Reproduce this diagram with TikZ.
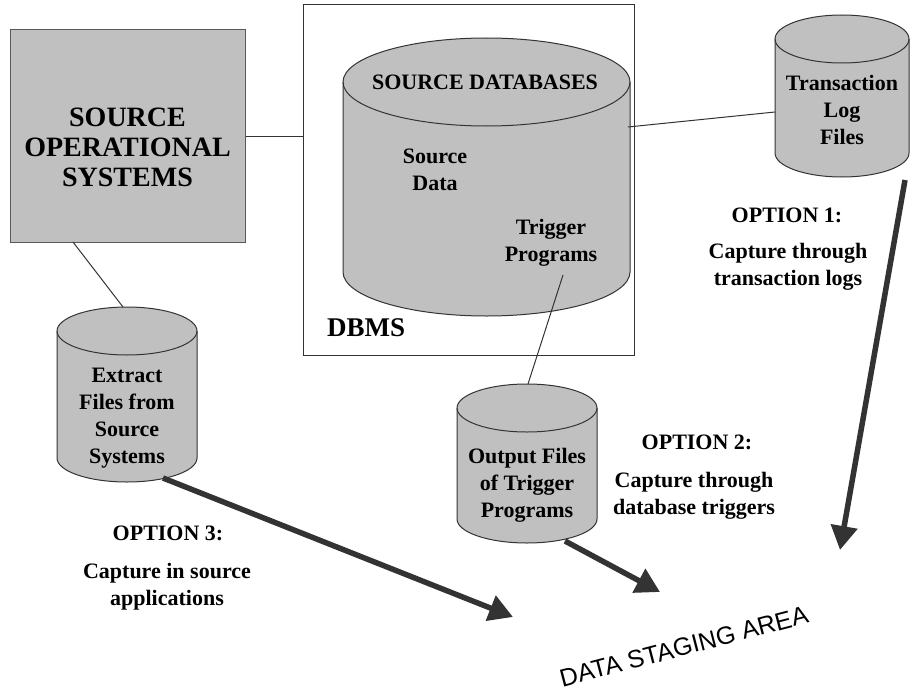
\documentclass[tikz,border=0pt]{standalone}
\usepackage{fontspec}
\setmainfont{Liberation Serif}
\newfontfamily\lsans{Liberation Sans}
\usetikzlibrary{arrows.meta}
\definecolor{cylgray}{RGB}{192,192,192}
\definecolor{darkline}{RGB}{51,51,51}
\tikzset{
  cylfill/.style={fill=cylgray,draw=darkline,line width=1pt},
  cylline/.style={draw=darkline,line width=1pt},
  lbl/.style={align=center,inner sep=0pt,font={\fontsize{22}{27}\selectfont\bfseries}},
  conn/.style={draw=darkline,line width=1pt},
  bigarrow/.style={draw=darkline,line width=5.5pt,-{Triangle[length=24pt,width=26pt]},fill=darkline}
}
\newcommand\mycyl[5]{% cx, ytop, ybot, rx, ry
  \path[cylfill] (#1-#4,#2) -- (#1-#4,#3) arc[start angle=180,end angle=360,x radius=#4pt,y radius=#5pt] -- (#1+#4,#2) arc[start angle=0,end angle=180,x radius=#4pt,y radius=#5pt] -- cycle;
  \draw[cylline] (#1-#4,#2) arc[start angle=180,end angle=360,x radius=#4pt,y radius=#5pt];
}
\begin{document}
\begin{tikzpicture}[x=1pt,y=-1pt]
\useasboundingbox[fill=white] (0,0) rectangle (910,693);

% Source operational systems box
\node[fill=cylgray,draw=gray!70!black,line width=1pt,minimum width=235pt,minimum height=212pt,inner sep=0pt] (sos) at (127.5,136) {};
\node[align=center,inner sep=0pt,font={\fontsize{28}{30}\selectfont\bfseries}] (sostxt) at (127.5,147) {SOURCE\\OPERATIONAL\\SYSTEMS};

% DBMS frame
\node[draw=darkline,line width=1pt,minimum width=331pt,minimum height=350pt,inner sep=0pt] (frame) at (468.5,180) {};
\node[anchor=west,inner sep=0pt,font={\fontsize{27}{30}\selectfont\bfseries}] (dbms) at (327,328) {DBMS};

% cylinders
\mycyl{486.5}{82}{272}{143.5}{44}
\mycyl{842}{39}{153}{67}{24}
\mycyl{127}{331}{458}{70}{24}
\mycyl{527}{408}{519}{70}{24}

% cylinder texts
\node[lbl] (srcdb) at (485,82) {SOURCE DATABASES};
\node[lbl] (srcdata) at (435,170) {Source\\Data};
\node[lbl] (trig) at (551,243) {Trigger\\Programs};
\node[lbl] (tlog) at (842,110) {Transaction\\Log\\Files};
\node[lbl] (extract) at (127,418) {Extract\\Files from\\Source\\Systems};
\node[lbl] (output) at (527,485) {Output Files\\of Trigger\\Programs};

% option texts
\node[lbl] (opt1) at (787,215) {OPTION 1:};
\node[lbl] (cap1) at (788,266.5) {Capture through\\transaction logs};
\node[lbl] (opt2) at (697,442) {OPTION 2:};
\node[lbl] (cap2) at (694,495.5) {Capture through\\database triggers};
\node[lbl] (opt3) at (168,533) {OPTION 3:};
\node[lbl] (cap3) at (167,586.5) {Capture in source\\applications};

\node[anchor=base,inner sep=0pt,rotate=14.6,font={\fontsize{25}{30}\selectfont\lsans}] (dsa) at (686,655) {DATA STAGING AREA};

% connector end points
\coordinate (sosS) at (73,242);
\coordinate (exTop) at (123,307);
\coordinate (dbR) at (628,127);
\coordinate (tlL) at (775,112);
\coordinate (trigP) at (563,275);
\coordinate (outTop) at (528,384);
\coordinate (tlB) at (905,180);
\coordinate (tip1) at (840,550);
\coordinate (outB) at (565,541);
\coordinate (tip2) at (660,592);
\coordinate (exB) at (163,478);
\coordinate (tip3) at (513,617);

% thin connectors
\draw[conn] (sos.east) -- (sos.east -| frame.west);
\draw[conn] (sosS) -- (exTop);
\draw[conn] (dbR) -- (tlL);
\draw[conn] (trigP) -- (outTop);

% big arrows
\draw[bigarrow] (tlB) -- (tip1);
\draw[bigarrow] (outB) -- (tip2);
\draw[bigarrow] (exB) -- (tip3);
\end{tikzpicture}
\end{document}
